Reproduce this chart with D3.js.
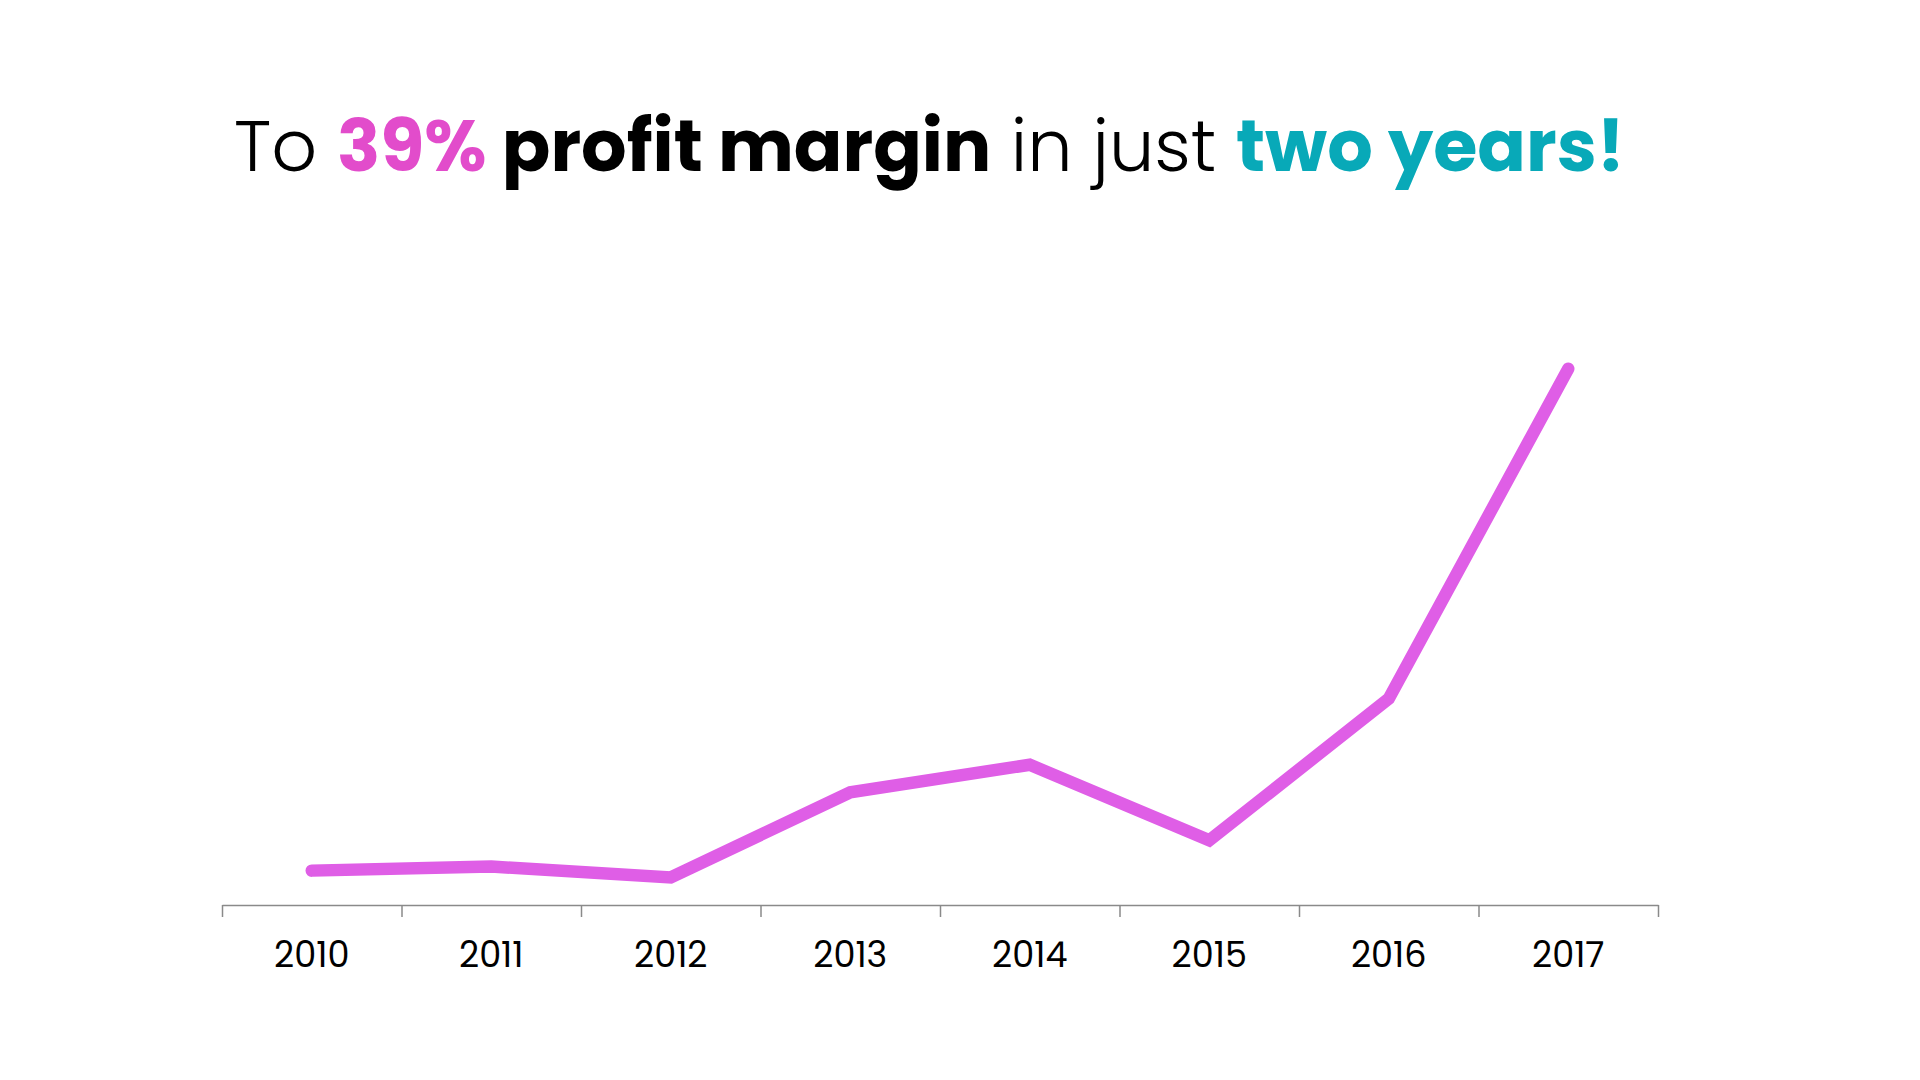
<!DOCTYPE html>
<html>
<head>
<meta charset="utf-8">
<script src="https://cdn.jsdelivr.net/npm/d3@7"></script>
<style>
  html, body { margin: 0; padding: 0; background: #ffffff; }
  svg { display: block; }
</style>
</head>
<body>
<svg id="chart" width="1920" height="1080"></svg>
<script>
const years = ["2010", "2011", "2012", "2013", "2014", "2015", "2016", "2017"];
const margins = [2.5, 2.8, 2.0, 8.2, 10.2, 4.7, 15.0, 39.0];
const titleParts = [
  { text: "To ", kind: "light" },
  { text: "39%", kind: "pink" },
  { text: " profit margin", kind: "bold" },
  { text: " in just ", kind: "light" },
  { text: "two years!", kind: "teal" }
];

const FONT = "Poppins, Inter, 'Open Sans', sans-serif";
const svg = d3.select("#chart");

// Title
const styles = {
  light: { weight: 300, fill: "#000000" },
  bold:  { weight: 700, fill: "#000000" },
  pink:  { weight: 700, fill: "#e24ccb" },
  teal:  { weight: 700, fill: "#08a9b8" }
};
const title = svg.append("text")
  .attr("x", 234).attr("y", 171)
  .attr("font-family", FONT)
  .attr("font-size", 70)
  .style("white-space", "pre")
  .attr("xml:space", "preserve");
title.selectAll("tspan").data(titleParts).join("tspan")
  .text(d => d.text)
  .attr("font-weight", d => styles[d.kind].weight)
  .attr("fill", d => styles[d.kind].fill);

// fit title width to reference (≈1391px)
const targetW = 1391;
const w = title.node().getComputedTextLength();
if (w > 0) {
  const fs = Math.max(60, Math.min(80, 70 * targetW / w));
  title.attr("font-size", fs);
}

// Scales
const x = d3.scaleBand().domain(years).range([222, 1658]).padding(0);
const xEdges = d3.scaleLinear().domain([0, years.length]).range([222, 1658]);
const y = d3.scaleLinear().domain([0, 40]).range([905, 355]);

// Axis with ticks at band boundaries
const edgeAxis = svg.append("g")
  .attr("transform", "translate(0,905)")
  .call(d3.axisBottom(xEdges)
    .tickValues(d3.range(years.length + 1))
    .tickFormat("")
    .tickSize(12)
    .tickSizeOuter(0));
edgeAxis.select(".domain").attr("stroke", "#8a8a8a").attr("stroke-width", 1.5);
edgeAxis.selectAll(".tick line").attr("stroke", "#8a8a8a").attr("stroke-width", 1.5);

// Labels via band axis
const labelAxis = svg.append("g")
  .attr("transform", "translate(0,905)")
  .call(d3.axisBottom(x).tickSize(0).tickPadding(37));
labelAxis.select(".domain").remove();
labelAxis.selectAll("text")
  .attr("font-family", FONT)
  .attr("font-size", 35)
  .attr("font-weight", 400)
  .attr("fill", "#000000");

// Line
const line = d3.line()
  .x((d, i) => x(years[i]) + x.bandwidth() / 2)
  .y(d => y(d));
svg.append("path")
  .datum(margins)
  .attr("d", line)
  .attr("fill", "none")
  .attr("stroke", "#df5ee6")
  .attr("stroke-width", 12.5)
  .attr("stroke-linecap", "round")
  .attr("stroke-linejoin", "miter");
</script>
</body>
</html>
